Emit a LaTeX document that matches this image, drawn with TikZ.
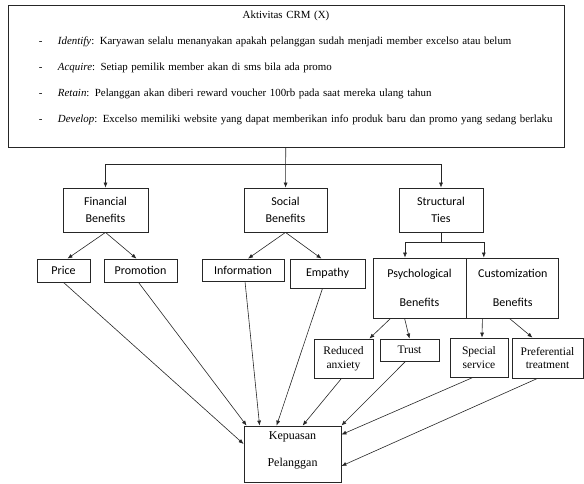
\documentclass[tikz,border=0pt]{standalone}
\usepackage{fontspec}
\setmainfont{Liberation Serif}
\newfontfamily\calibri{Carlito}
\usetikzlibrary{arrows.meta,positioning}
\tikzset{
box/.style={draw=black!85, line width=0.8pt, inner sep=0pt, align=center, font=\calibri\fontsize{12}{17}\selectfont}, % sans boxes
tbox/.style={draw=black!85, line width=0.8pt, inner sep=0pt, align=center, font=\fontsize{11.5}{13.5}\selectfont}, % serif boxes
dims/.style 2 args={minimum width=#1pt, minimum height=#2pt},
link/.style={color=black!85, line width=0.6pt},
}
\newcommand{\crmitem}[2]{\noindent\hspace*{31pt}\makebox[19pt][l]{-}\textit{#1}: #2\par}

\begin{document}
\begin{tikzpicture}[x=1pt, y=-1pt, >={Latex[length=5pt,width=4pt]}]
\useasboundingbox (0,0) rectangle (584,483);
% CRM activities
\node[draw=black!85, line width=0.8pt, inner sep=0pt, text width=556pt, minimum height=142pt, font=\fontsize{10.9}{26}\selectfont] (crm) at (286,76) {%
{\centering Aktivitas CRM (X)\par}
\crmitem{Identify}{Karyawan selalu menanyakan apakah pelanggan sudah menjadi member excelso atau belum}
\crmitem{Acquire}{Setiap pemilik member akan di sms bila ada promo}
\crmitem{Retain}{Pelanggan akan diberi reward voucher 100rb pada saat mereka ulang tahun}
\crmitem{Develop}{Excelso memiliki website yang dapat memberikan info produk baru dan promo yang sedang berlaku\rule[-19pt]{0pt}{0pt}}};

% benefits
\node[box, dims={85}{44}] (fin) at (105.5,210) {Financial\\Benefits};
\node[box, dims={83}{44}] (soc) at (285.5,210) {Social\\Benefits};
\node[box, dims={84}{44}] (str) at (441,210) {Structural\\Ties};
\node[box, dims={53}{23}] (price) at (63.5,270.5) {Price};
\node[box, dims={73}{23}] (promo) at (140.5,270.5) {Promotion};
\node[box, dims={82}{22}] (info) at (243,270) {Information};
\node[box, dims={75}{29}] (emp) at (327.5,273.5) {Empathy};
\node[box, dims={93}{60}, font=\calibri\fontsize{12}{29}\selectfont] (psy) at (419.5,288) {Psychological\\Benefits};
\node[box, dims={92}{60}, font=\calibri\fontsize{12}{29}\selectfont, right=0pt of psy] (cus) {Customization\\Benefits};

% structural details
\node[tbox, dims={59}{39}] (red) at (343.5,358.5) {Reduced\\anxiety};
\node[tbox, dims={59}{22}] (trust) at (409.5,350) {Trust};
\node[tbox, dims={58}{39}] (spec) at (479,357.5) {Special\\service};
\node[tbox, dims={71}{40}] (pref) at (547.5,358) {Preferential\\treatment};

% outcome
\node[tbox, dims={97}{56}, font=\fontsize{12}{27}\selectfont] (kep) at (292.5,454) {Kepuasan\\Pelanggan\rule[-9pt]{0pt}{0pt}};

\coordinate (hub) at (286,164);
\coordinate (fork) at (441,242);
\draw[link,->] (crm) -- (soc);
\draw[link,->] (hub) -| (fin);
\draw[link,->] (hub) -| (str);
\draw[link] (str) -- (fork);
\draw[link,->] (fork) -| ([xshift=-14.5pt]psy.north);
\draw[link,->] (fork) -| ([xshift=-29pt]cus.north);
\path[link,->]
 (fin.south) edge ([xshift=4pt]price.north)
 (fin.south) edge ([xshift=-4pt]promo.north)
 (soc.south) edge ([xshift=5pt]info.north)
 (soc.south) edge ([xshift=-6pt]emp.north)
 ([xshift=18pt]psy.south west) edge ([xshift=-4pt]red.north east)
 ([xshift=32pt]psy.south west) edge (trust.north)
 ([xshift=16pt]cus.south west) edge ([xshift=3pt]spec.north)
 ([xshift=43pt]cus.south west) edge ([xshift=-15pt]pref.north)
 (price.south) edge ([yshift=10pt]kep.west)
 ([xshift=-2pt]promo.south) edge ([xshift=3pt]kep.north west)
 ([xshift=2pt]info.south) edge ([xshift=16pt]kep.north west)
 ([xshift=-5pt]emp.south) edge ([xshift=33pt]kep.north west)
 ([xshift=-2pt]red.south) edge ([xshift=59pt]kep.north west)
 ([xshift=-4pt]trust.south) edge (kep.north east)
 ([xshift=-6pt]spec.south) edge ([yshift=-9pt]kep.north east)
 ([xshift=-10pt]pref.south) edge ([yshift=-12pt]kep.east);
\end{tikzpicture}
\end{document}
